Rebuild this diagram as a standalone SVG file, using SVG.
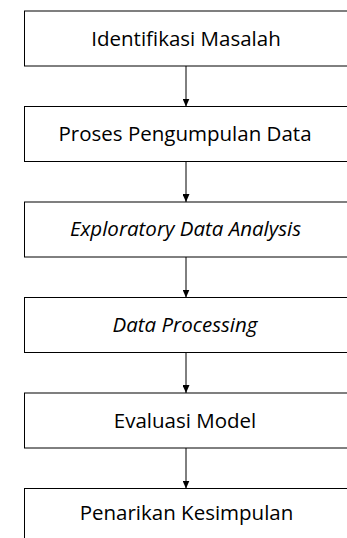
<svg xmlns="http://www.w3.org/2000/svg" width="347" height="538" viewBox="0 0 347 538">
<defs>
<marker id="ah" markerWidth="8" markerHeight="7" refX="8" refY="3.5" orient="auto" markerUnits="userSpaceOnUse">
<path d="M0,0 L8,3.5 L0,7 Z" fill="#000"/>
</marker>
<style>
.box{fill:#fff;stroke:#000;stroke-width:1}
.t{font-family:"Open Sans","Noto Sans",sans-serif;font-size:20.5px;fill:#000;text-anchor:middle}
.i{font-style:italic}
.c{stroke:#000;stroke-width:1;fill:none;marker-end:url(#ah)}
</style>
</defs>
<rect width="347" height="538" fill="#fff"/>
<g id="connectors">
<line class="c" x1="186" y1="66" x2="186" y2="106.5"/>
<line class="c" x1="186" y1="161.5" x2="186" y2="202"/>
<line class="c" x1="186" y1="257" x2="186" y2="297.5"/>
<line class="c" x1="186" y1="352.5" x2="186" y2="393"/>
<line class="c" x1="186" y1="448" x2="186" y2="488.5"/>
</g>
<g id="n1"><rect class="box" x="24.5" y="11" width="330" height="55"/><text class="t" x="186" y="45.5">Identifikasi Masalah</text></g>
<g id="n2"><rect class="box" x="24.5" y="106.5" width="330" height="55"/><text class="t" x="185" y="141">Proses Pengumpulan Data</text></g>
<g id="n3"><rect class="box" x="24.5" y="202" width="330" height="55"/><text class="t i" x="185.5" y="236">Exploratory Data Analysis</text></g>
<g id="n4"><rect class="box" x="24.5" y="297.5" width="330" height="55"/><text class="t i" x="185" y="332">Data Processing</text></g>
<g id="n5"><rect class="box" x="24.5" y="393" width="330" height="55"/><text class="t" x="185" y="427.5">Evaluasi Model</text></g>
<g id="n6"><rect class="box" x="24.5" y="488.5" width="330" height="55"/><text class="t" x="186.5" y="520">Penarikan Kesimpulan</text></g>
</svg>
